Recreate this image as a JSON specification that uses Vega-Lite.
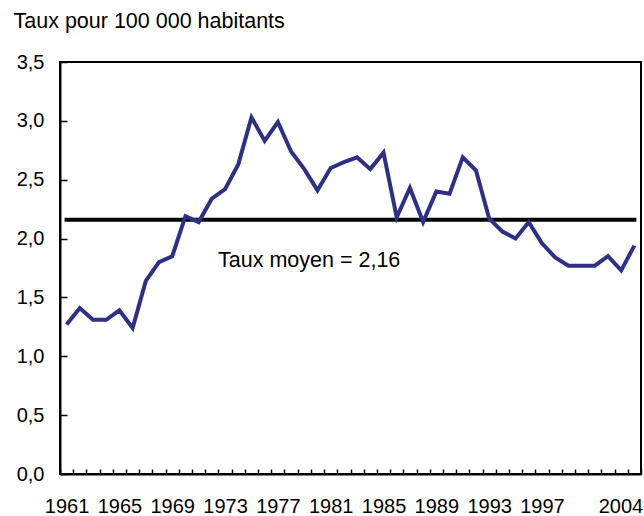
{
  "$schema": "https://vega.github.io/schema/vega-lite/v6.json",
  "width": 581,
  "height": 412,
  "autosize": {"type": "none"},
  "padding": {"left": 60, "top": 62, "right": 3, "bottom": 42},
  "background": "white",
  "config": {
    "view": {"stroke": "black", "strokeWidth": 2},
    "font": "Liberation Sans",
    "axis": {"domainColor": "black", "domainWidth": 2, "tickColor": "black", "tickWidth": 1.5, "labelColor": "black", "titleColor": "black", "grid": false, "labelFont": "Liberation Sans", "titleFont": "Liberation Sans"}
  },
  "data": {
    "values": [
      {"year": 1961, "rate": 1.27},
      {"year": 1962, "rate": 1.41},
      {"year": 1963, "rate": 1.31},
      {"year": 1964, "rate": 1.31},
      {"year": 1965, "rate": 1.39},
      {"year": 1966, "rate": 1.24},
      {"year": 1967, "rate": 1.64},
      {"year": 1968, "rate": 1.80},
      {"year": 1969, "rate": 1.85},
      {"year": 1970, "rate": 2.19},
      {"year": 1971, "rate": 2.14},
      {"year": 1972, "rate": 2.34},
      {"year": 1973, "rate": 2.42},
      {"year": 1974, "rate": 2.63},
      {"year": 1975, "rate": 3.03},
      {"year": 1976, "rate": 2.83},
      {"year": 1977, "rate": 2.99},
      {"year": 1978, "rate": 2.74},
      {"year": 1979, "rate": 2.59},
      {"year": 1980, "rate": 2.41},
      {"year": 1981, "rate": 2.60},
      {"year": 1982, "rate": 2.65},
      {"year": 1983, "rate": 2.69},
      {"year": 1984, "rate": 2.59},
      {"year": 1985, "rate": 2.73},
      {"year": 1986, "rate": 2.18},
      {"year": 1987, "rate": 2.43},
      {"year": 1988, "rate": 2.14},
      {"year": 1989, "rate": 2.40},
      {"year": 1990, "rate": 2.38},
      {"year": 1991, "rate": 2.69},
      {"year": 1992, "rate": 2.58},
      {"year": 1993, "rate": 2.17},
      {"year": 1994, "rate": 2.06},
      {"year": 1995, "rate": 2.00},
      {"year": 1996, "rate": 2.14},
      {"year": 1997, "rate": 1.96},
      {"year": 1998, "rate": 1.84},
      {"year": 1999, "rate": 1.77},
      {"year": 2000, "rate": 1.77},
      {"year": 2001, "rate": 1.77},
      {"year": 2002, "rate": 1.85},
      {"year": 2003, "rate": 1.73},
      {"year": 2004, "rate": 1.94}
    ]
  },
  "encoding": {
    "x": {
      "field": "year",
      "type": "ordinal",
      "scale": {"type": "band", "paddingInner": 0, "paddingOuter": 0},
      "axis": {
        "title": null,
        "labelAngle": 0,
        "tickBand": "extent",
        "tickSize": -5,
        "labelPadding": 27,
        "labelFontSize": 20,
        "labelBaseline": "top",
        "labelOverlap": false,
        "labelExpr": "((datum.value - 1961) % 4 == 0 && datum.value < 2000) || datum.value == 2004 ? datum.label : ''",
        "labelOffset": {"condition": {"test": "datum.value == 2004", "value": -14}, "value": 0}
      }
    }
  },
  "layer": [
    {
      "mark": {"type": "line", "color": "black", "strokeWidth": 4, "strokeCap": "square"},
      "encoding": {
        "y": {"datum": 2.16, "type": "quantitative"}
      }
    },
    {
      "mark": {"type": "line", "color": "#2e3086", "strokeWidth": 4, "strokeJoin": "miter"},
      "encoding": {
        "y": {
          "field": "rate",
          "type": "quantitative",
          "scale": {"domain": [0, 3.5], "nice": false},
          "axis": {
            "values": [0, 0.5, 1, 1.5, 2, 2.5, 3, 3.5],
            "labelExpr": "replace(format(datum.value, '.1f'), '.', ',')",
            "tickSize": -7,
            "labelPadding": 23,
            "labelFontSize": 20,
            "title": "Taux pour 100 000 habitants",
            "titleAngle": 0,
            "titleAlign": "left",
            "titleBaseline": "alphabetic",
            "titleX": -47,
            "titleY": -35,
            "titleFontSize": 21.5,
            "titleFontWeight": "normal"
          }
        }
      }
    },
    {
      "data": {"values": [{"label": "Taux moyen = 2,16"}]},
      "mark": {"type": "text", "align": "left", "baseline": "alphabetic", "fontSize": 21.5, "dx": -7, "color": "black"},
      "encoding": {
        "text": {"field": "label"},
        "x": {"datum": 1973},
        "y": {"datum": 1.76, "type": "quantitative"}
      }
    }
  ]
}
